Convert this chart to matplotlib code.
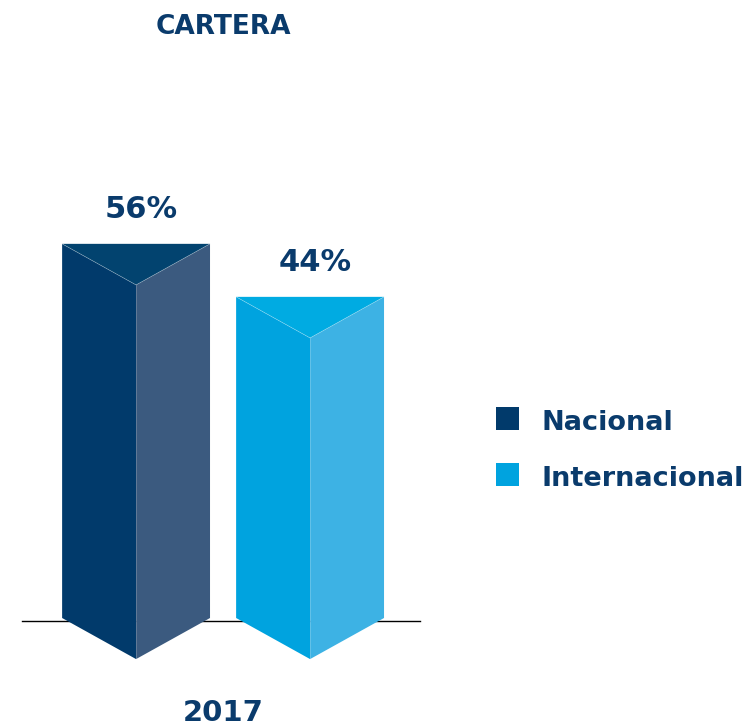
import matplotlib
matplotlib.use("Agg")
import matplotlib.pyplot as plt
from matplotlib.patches import Polygon, Rectangle

# datos
categorias = ["Nacional", "Internacional"]
valores = [56, 44]
anio = "2017"
titulo = "CARTERA"

# colores por cara: izquierda, derecha, tapa
colores = [
    ("#013a6b", "#3b5a7f", "#02436f"),
    ("#00a3df", "#3db2e4", "#00abe2"),
]
COLOR_TEXTO = "#0a3b6c"
FUENTE = "DejaVu Sans"

MEDIO_ANCHO = 0.425
PROFUNDIDAD = 9.3
BASE = -28.7

fig = plt.figure(figsize=(7.51, 7.28), dpi=100)
ax = fig.add_axes([0, 0, 1, 1])
ax.set_xlim(-0.782, 3.534)
ax.set_ylim(-53.6, 111.2)
ax.axis("off")

# linea base
ax.plot([-0.655, 1.632], [BASE - 0.6, BASE - 0.6], color="black", lw=1, zorder=1)

for i, (v, (c_izq, c_der, c_top)) in enumerate(zip(valores, colores)):
    x0, x1 = i - MEDIO_ANCHO, i + MEDIO_ANCHO
    izq = [(x0, v), (x0, BASE), (i, BASE - PROFUNDIDAD), (i, v - PROFUNDIDAD)]
    der = [(x1, v), (x1, BASE), (i, BASE - PROFUNDIDAD), (i, v - PROFUNDIDAD)]
    top = [(x0, v), (x1, v), (i, v - PROFUNDIDAD)]
    ax.add_patch(Polygon(izq, closed=True, fc=c_izq, ec="none", zorder=2))
    ax.add_patch(Polygon(der, closed=True, fc=c_der, ec="none", zorder=2))
    ax.add_patch(Polygon(top, closed=True, fc=c_top, ec="none", zorder=3))
    # aristas finas
    ax.plot([x0, i, x1], [v, v - PROFUNDIDAD, v], color="white", lw=0.5, alpha=0.35, zorder=4)
    ax.plot([i, i], [v - PROFUNDIDAD, BASE - PROFUNDIDAD], color="white", lw=0.4, alpha=0.25, zorder=4)
    ax.text(i + 0.03, v + 5.8, f"{v}%", ha="center", va="baseline", fontsize=22,
            fontweight="bold", color=COLOR_TEXTO, family=FUENTE)

ax.text(0.5, -52.0, anio, ha="center", va="baseline", fontsize=21,
        fontweight="bold", color=COLOR_TEXTO, family=FUENTE)

# titulo
fig.text(223.5 / 751, 1 - 34 / 728, titulo, ha="center", va="baseline", fontsize=19,
         fontweight="bold", color=COLOR_TEXTO, family=FUENTE)

# leyenda
for j, (nombre, (c_izq, _, _)) in enumerate(zip(categorias, colores)):
    yb = 1 - (430 + j * 56) / 728
    fig.patches.append(Rectangle((496 / 751, yb), 23 / 751, 23 / 728,
                                 transform=fig.transFigure, fc=c_izq, ec="none"))
    fig.text(541 / 751, yb, nombre, ha="left", va="baseline", fontsize=19.5,
             fontweight="bold", color=COLOR_TEXTO, family=FUENTE)

fig.savefig("out.png", dpi=100)
